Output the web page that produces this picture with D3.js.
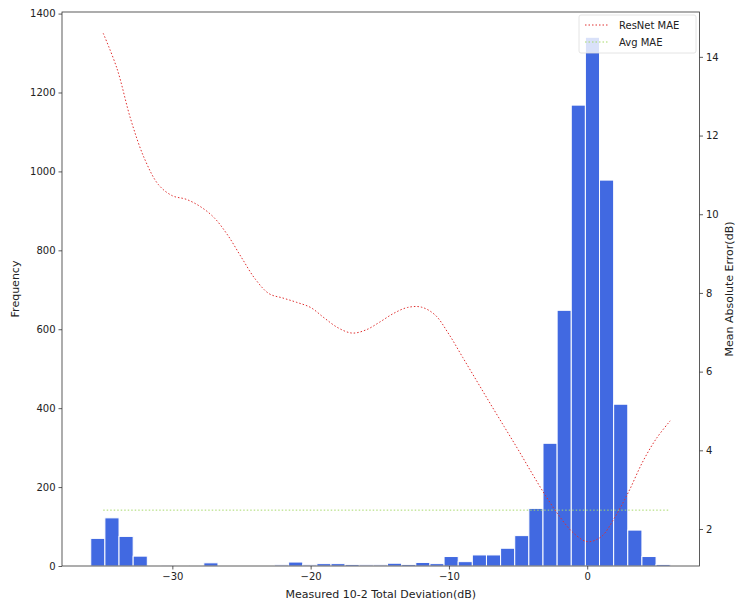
<!DOCTYPE html>
<html>
<head>
<meta charset="utf-8">
<script src="https://cdn.jsdelivr.net/npm/d3@7"></script>
<style>
  body { margin: 0; background: #fff; }
  text { font-family: "DejaVu Sans", sans-serif; fill: #222; }
</style>
</head>
<body>
<svg id="chart" width="735" height="606"></svg>
<script>
// histogram: 41 bins between binLo and binHi
var binLo = -35.9, binHi = 6.0;
var counts = [70, 122, 75, 25, 0, 1, 2, 2, 8, 0, 0, 2, 2, 3, 10, 3, 6, 6, 4, 3,
              3, 7, 4, 9, 6, 24, 11, 28, 28, 45, 77, 146, 311, 648, 1168, 1340, 978, 410, 91, 24, 4];

// MAE curve
var maeX = [-35, -34, -33, -32, -31, -30, -29, -28, -27, -26, -25, -24, -23, -22, -21, -20,
            -19, -18, -17, -16, -15, -14, -13, -12, -11, -10, -9, -8, -7, -6, -5, -4, -3, -2, -1, 0, 1, 2, 3, 4, 5, 6];
var maeY = [14.6, 13.7, 12.4, 11.4, 10.75, 10.47, 10.38, 10.2, 9.92, 9.47, 8.9, 8.35, 7.98, 7.87, 7.76, 7.63,
            7.36, 7.11, 6.98, 7.06, 7.26, 7.48, 7.63, 7.64, 7.44, 6.95, 6.36, 5.77, 5.18, 4.6, 4.02, 3.42, 2.84, 2.32, 1.9, 1.68, 1.8, 2.3, 2.95, 3.7, 4.3, 4.75];
var avgMAE = 2.48;

var xTicks = [-30, -20, -10, 0];
var yLeftTicks = [0, 200, 400, 600, 800, 1000, 1200, 1400];
var yRightTicks = [2, 4, 6, 8, 10, 12, 14];

var Plot = {left: 62, right: 699.5, top: 12, bottom: 566};

var svg = d3.select("#chart");

var x = d3.scaleLinear().domain([-37.98, 8.12]).range([Plot.left, Plot.right]);
var yL = d3.scaleLinear().domain([0, 1404]).range([Plot.bottom, Plot.top]);
var yR = d3.scaleLinear().domain([1.06, 15.14]).range([Plot.bottom, Plot.top]);

var binW = (binHi - binLo) / counts.length;
var bins = counts.map(function(c, i){ return {x0: binLo + i*binW, x1: binLo + (i+1)*binW, n: c}; });

svg.append("g")
    .selectAll("rect")
    .data(bins)
    .enter()
    .append("rect")
    .attr("x", function(d){ return x(d.x0); })
    .attr("width", function(d){ return x(d.x1) - x(d.x0); })
    .attr("y", function(d){ return yL(d.n); })
    .attr("height", function(d){ return yL(0) - yL(d.n); })
    .attr("fill", "#4169e1")
    .attr("stroke", "#fff")
    .attr("stroke-width", 1);

// avg line + curve on the twin axis
svg.append("line")
    .attr("x1", x(maeX[0]))
    .attr("x2", x(maeX[maeX.length-1]))
    .attr("y1", yR(avgMAE))
    .attr("y2", yR(avgMAE))
    .attr("stroke", "#a6d96a")
    .attr("stroke-width", 1)
    .attr("stroke-dasharray", "1.5,2");

var line = d3.line()
    .x(function(d){ return x(d[0]); })
    .y(function(d){ return yR(d[1]); })
    .curve(d3.curveCatmullRom);

svg.append("path")
    .datum(maeX.map(function(v, i){ return [v, maeY[i]]; }))
    .attr("d", line)
    .attr("fill", "none")
    .attr("stroke", "#e03030")
    .attr("stroke-width", 1)
    .attr("stroke-dasharray", "1.5,2");

// axes
var xAxis = svg.append("g")
    .attr("transform", "translate(0," + Plot.bottom + ")")
    .call(d3.axisBottom(x).tickValues(xTicks).tickSize(3.5).tickPadding(3));
var leftAxis = svg.append("g")
    .attr("transform", "translate(" + Plot.left + ",0)")
    .call(d3.axisLeft(yL).tickValues(yLeftTicks).tickFormat(d3.format("d")).tickSize(3.5).tickPadding(3));
var rightAxis = svg.append("g")
    .attr("transform", "translate(" + Plot.right + ",0)")
    .call(d3.axisRight(yR).tickValues(yRightTicks).tickFormat(d3.format("d")).tickSize(3.5).tickPadding(3));

[xAxis, leftAxis, rightAxis].forEach(function(g){
    g.select(".domain").remove();
    g.selectAll("line").attr("stroke", "#333").attr("stroke-width", 0.8);
    g.selectAll("text").attr("font-size", 10).attr("fill", "#222").style("font-family", "DejaVu Sans, sans-serif");
});

svg.append("rect")
    .attr("x", Plot.left)
    .attr("y", Plot.top)
    .attr("width", Plot.right - Plot.left)
    .attr("height", Plot.bottom - Plot.top)
    .attr("fill", "none")
    .attr("stroke", "#333")
    .attr("stroke-width", 0.8);

// labels
svg.append("text")
    .attr("x", (Plot.left + Plot.right)/2)
    .attr("y", 598)
    .attr("text-anchor", "middle")
    .attr("font-size", 11)
    .text("Measured 10-2 Total Deviation(dB)");

svg.append("text")
    .attr("transform", "translate(19," + (Plot.top + Plot.bottom)/2 + ") rotate(-90)")
    .attr("text-anchor", "middle")
    .attr("font-size", 11)
    .text("Frequency");

svg.append("text")
    .attr("transform", "translate(733," + (Plot.top + Plot.bottom)/2 + ") rotate(-90)")
    .attr("text-anchor", "middle")
    .attr("font-size", 11)
    .text("Mean Absolute Error(dB)");

// legend
var legend = svg.append("g");
legend.append("rect")
    .attr("x", 579)
    .attr("y", 15)
    .attr("width", 117)
    .attr("height", 38)
    .attr("rx", 2)
    .attr("fill", "#fff")
    .attr("fill-opacity", 0.8)
    .attr("stroke", "#ddd")
    .attr("stroke-width", 0.8);

var legendItems = [{name: "ResNet MAE", color: "#e03030"}, {name: "Avg MAE", color: "#a6d96a"}];
legendItems.forEach(function(d, i){
    legend.append("line")
        .attr("x1", 585)
        .attr("x2", 608)
        .attr("y1", 25 + i*17)
        .attr("y2", 25 + i*17)
        .attr("stroke", d.color)
        .attr("stroke-width", 1)
        .attr("stroke-dasharray", "1.5,2");
    legend.append("text")
        .attr("x", 619)
        .attr("y", 29 + i*17)
        .attr("font-size", 10)
        .text(d.name);
});
</script>
</body>
</html>
